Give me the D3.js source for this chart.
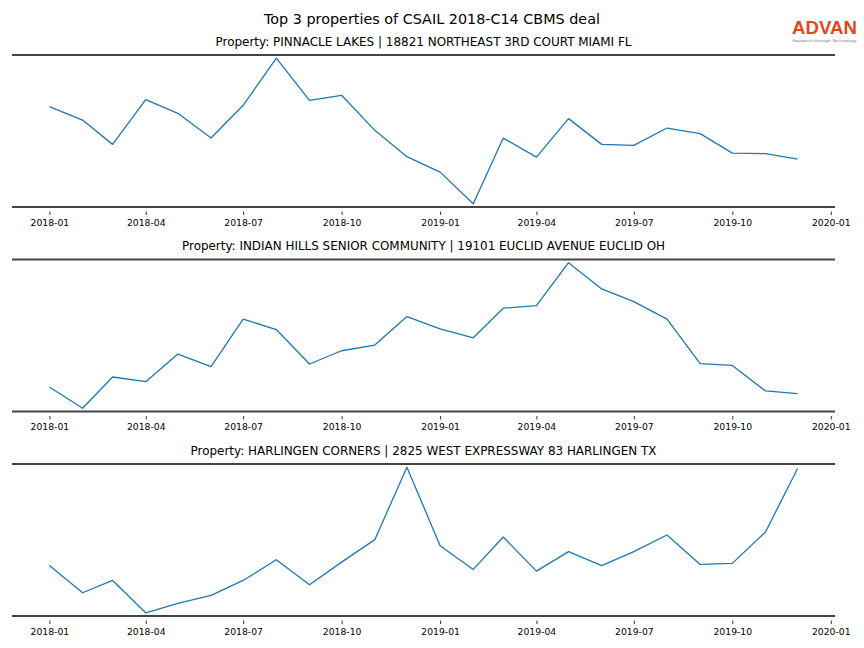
<!DOCTYPE html>
<html>
<head>
<meta charset="utf-8">
<script src="https://cdn.jsdelivr.net/npm/d3@7"></script>
<style>
  html, body { margin: 0; padding: 0; background: #fff; }
  svg { display: block; font-family: "DejaVu Sans", sans-serif; }
</style>
</head>
<body>
<svg id="chart" width="864" height="648"></svg>
<script>
// ---- data ----
const months = ["2018-01","2018-02","2018-03","2018-04","2018-05","2018-06","2018-07","2018-08","2018-09","2018-10","2018-11","2018-12",
                "2019-01","2019-02","2019-03","2019-04","2019-05","2019-06","2019-07","2019-08","2019-09","2019-10","2019-11","2019-12"];
const titles = [
  "Property: PINNACLE LAKES | 18821 NORTHEAST 3RD COURT MIAMI FL",
  "Property: INDIAN HILLS SENIOR COMMUNITY | 19101 EUCLID AVENUE EUCLID OH",
  "Property: HARLINGEN CORNERS | 2825 WEST EXPRESSWAY 83 HARLINGEN TX"
];
const pinnacleLakes = [99.7, 86.3, 62, 106.7, 93, 68.3, 101, 148, 106, 111, 76, 49.7,
                       34.3, 2.7, 68.3, 49.3, 87.7, 62, 61, 78.3, 72.7, 53.3, 52.7, 47.3];
const indianHills   = [24.7, 3.3, 34.7, 30, 57.7, 45, 92.7, 82.3, 47.7, 61, 66.7, 95.3,
                       83, 74, 103.7, 106.3, 149.3, 123, 110.3, 92.7, 48, 46.3, 20.7, 18];
const harlingen     = [50, 22.7, 35, 2.7, 12, 20, 35, 55.7, 30.7, 53.3, 75.7, 148,
                       69.7, 46, 78.3, 44.3, 63.7, 49.7, 63.7, 80.3, 51, 52, 83.3, 146.7];
const tickLabels = ["2018-01","2018-04","2018-07","2018-10","2019-01","2019-04","2019-07","2019-10","2020-01"];
const mainTitle = "Top 3 properties of CSAIL 2018-C14 CBMS deal";
const series = [pinnacleLakes, indianHills, harlingen];

// ---- layout ----
const svg = d3.select("#chart");
const parse = d3.timeParse("%Y-%m");
const dates = months.map(parse);
const left = 12, right = 835;
const panelTops = [55, 259.5, 464];
const panelH = 152;
const titleWidths = [416, 483, 466];

const t0 = dates[0].getTime(), t1 = dates[dates.length - 1].getTime();
const pad = (t1 - t0) * 0.05;
const x = d3.scaleTime().domain([new Date(t0 - pad), new Date(t1 + pad)]).range([left, right]);
const ticks = tickLabels.map(parse);

// main title
svg.append("text")
  .attr("x", 432).attr("y", 24)
  .attr("text-anchor", "middle")
  .attr("font-size", 13.3)
  .attr("fill", "#000")
  .attr("textLength", 336).attr("lengthAdjust", "spacingAndGlyphs")
  .text(mainTitle);

// logo
const logo = svg.append("g");
logo.append("text")
  .attr("x", 824.5).attr("y", 33.5)
  .attr("text-anchor", "middle")
  .attr("font-family", "Liberation Sans, Arial, sans-serif")
  .attr("font-size", 18.5).attr("font-weight", "bold")
  .attr("fill", "#E2471B")
  .attr("textLength", 65).attr("lengthAdjust", "spacingAndGlyphs")
  .text("ADVAN");
logo.append("text")
  .attr("x", 824.5).attr("y", 41.5)
  .attr("text-anchor", "middle")
  .attr("font-size", 3.5)
  .attr("fill", "#777")
  .attr("textLength", 64).attr("lengthAdjust", "spacingAndGlyphs")
  .text("Research through Technology");

series.forEach((vals, i) => {
  const top = panelTops[i], bottom = top + panelH;
  const [mn, mx] = d3.extent(vals);
  const r = mx - mn;
  const y = d3.scaleLinear().domain([mn - 0.022 * r, mx + 0.022 * r]).range([bottom, top]);
  const g = svg.append("g");

  // subtitle
  g.append("text")
    .attr("x", (left + right) / 2).attr("y", top - 9.5)
    .attr("text-anchor", "middle")
    .attr("font-size", 12)
    .attr("fill", "#000")
    .attr("textLength", titleWidths[i]).attr("lengthAdjust", "spacingAndGlyphs")
    .text(titles[i]);

  // top / bottom spines
  [top, bottom].forEach(yy => {
    g.append("line")
      .attr("x1", left).attr("x2", right)
      .attr("y1", yy).attr("y2", yy)
      .attr("stroke", "#444").attr("stroke-width", 2);
  });

  // x axis
  const ax = g.append("g")
    .attr("transform", `translate(0,${bottom + 4.5})`)
    .call(d3.axisBottom(x).tickValues(ticks).tickFormat(d3.timeFormat("%Y-%m")).tickSize(3.5).tickPadding(4));
  ax.select(".domain").remove();
  ax.selectAll(".tick line").attr("stroke", "#000").attr("stroke-width", 0.8);
  ax.selectAll(".tick text")
    .attr("font-family", "DejaVu Sans, sans-serif")
    .attr("font-size", 9.25)
    .attr("fill", "#000");

  // line
  g.append("path")
    .datum(vals)
    .attr("fill", "none")
    .attr("stroke", "#1f77b4")
    .attr("stroke-width", 1.3)
    .attr("stroke-linejoin", "round")
    .attr("d", d3.line().x((d, k) => x(dates[k])).y(d => y(d)));
});
</script>
</body>
</html>
